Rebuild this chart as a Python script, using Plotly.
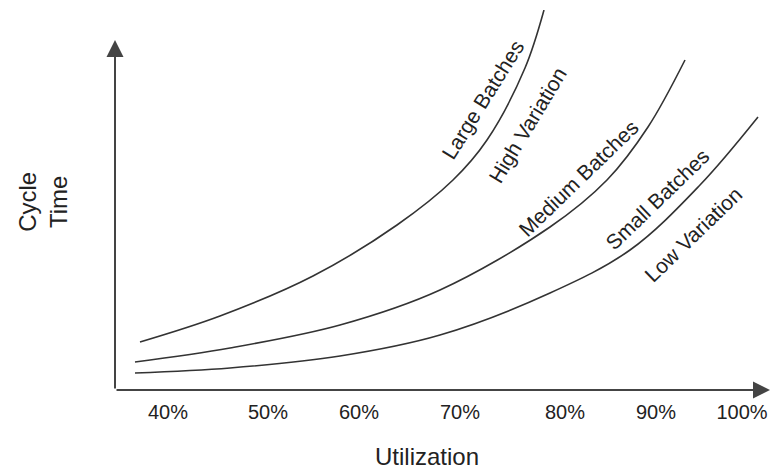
import plotly.graph_objects as go

# Utilization (position scale) and cycle-time values
large_x = [37.2, 45.2, 54.5, 62.9, 68.5, 71.9, 75.7, 77.6]
large_y = [48, 74, 114, 165, 210, 250, 322, 380]

medium_x = [36.7, 46.2, 57.2, 67.2, 78.2, 83.9, 88.0, 91.7]
medium_y = [28, 42, 65, 100, 163, 210, 263, 330]

small_x = [36.7, 46.2, 57.2, 67.2, 78.2, 86.2, 93.2, 99.0]
small_y = [17, 22, 34, 55, 97, 140, 205, 273]

tick_pos = [40, 50, 59.1, 69.2, 79.7, 88.8, 97.4]
tick_labels = ["40%", "50%", "60%", "70%", "80%", "90%", "100%"]

FONT = "Liberation Sans, Arial, sans-serif"
LINE = "#333333"
TXT = "#222222"

fig = go.Figure()
for xs, ys in [(large_x, large_y), (medium_x, medium_y), (small_x, small_y)]:
    fig.add_trace(go.Scatter(x=xs, y=ys, mode="lines",
                             line=dict(color=LINE, width=1.6, shape="spline", smoothing=1.0),
                             hoverinfo="skip", showlegend=False))

XMIN, XMAX = 34.7, 100.2
YTOP = 350

lab = dict(size=21, family=FONT, color=TXT)
annotations = [
    # axes with arrowheads
    dict(x=XMAX, y=0, ax=XMIN, ay=0, xref="x", yref="y", axref="x", ayref="y",
         showarrow=True, arrowhead=2, arrowsize=1.7, arrowwidth=2, arrowcolor="#444", text=""),
    dict(x=XMIN, y=YTOP, ax=XMIN, ay=0, xref="x", yref="y", axref="x", ayref="y",
         showarrow=True, arrowhead=2, arrowsize=1.7, arrowwidth=2, arrowcolor="#444", text=""),
    # curve labels
    dict(x=71.4, y=290, text="Large Batches", textangle=-58, font=lab),
    dict(x=75.9, y=265, text="High Variation", textangle=-59, font=lab),
    dict(x=81.0, y=212, text="Medium Batches", textangle=-44, font=lab),
    dict(x=88.9, y=191, text="Small Batches", textangle=-44, font=lab),
    dict(x=92.5, y=156, text="Low Variation", textangle=-44, font=lab),
    # axis titles
    dict(x=-0.11, y=0.495, xref="paper", yref="paper", text="Cycle<br>Time", textangle=-90,
         font=dict(size=24, family=FONT, color=TXT)),
    dict(x=0.476, y=-0.174, xref="paper", yref="paper", text="Utilization",
         font=dict(size=24, family=FONT, color=TXT)),
]
for a in annotations:
    if a.get("text"):
        a.update(showarrow=False, xanchor="center", yanchor="middle")

fig.update_layout(
    width=770, height=473,
    margin=dict(l=115, r=0, t=10, b=83),
    paper_bgcolor="white", plot_bgcolor="white",
    xaxis=dict(range=[XMIN, XMAX], tickvals=tick_pos, ticktext=tick_labels,
               showgrid=False, zeroline=False, showline=False, ticks="",
               ticklabelstandoff=8, automargin=False,
               tickfont=dict(size=20, family=FONT, color=TXT)),
    yaxis=dict(range=[0, 380], visible=False),
    annotations=annotations,
)

fig.write_html("out.html", config={"displayModeBar": False},
               post_script="document.body.style.margin='0';")
